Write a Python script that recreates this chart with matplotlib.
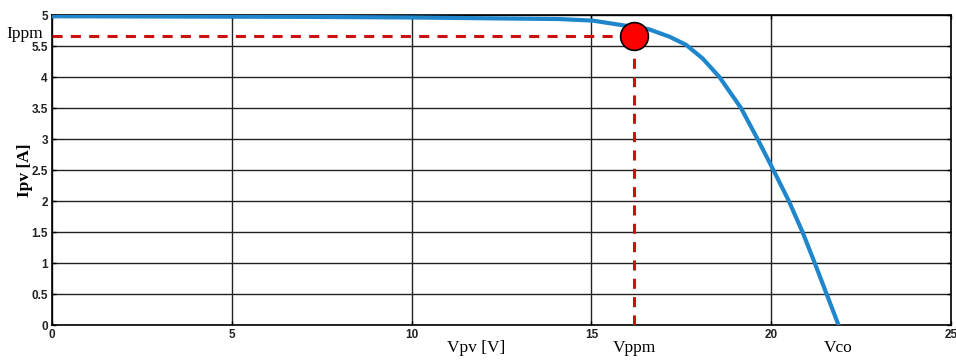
"""I-V characteristic of a PV module with the maximum power point marked."""
import matplotlib

matplotlib.use("Agg")

import matplotlib.pyplot as plt  # noqa: E402

# I-V curve
V_PV = [0, 7, 10, 14.11, 15.03, 16.6, 17.17, 17.63, 18.09, 18.56, 19.16,
        19.62, 20.06, 20.49, 20.87, 21.21, 21.54, 21.87]
I_PV = [4.98, 4.97, 4.96, 4.935, 4.91, 4.77, 4.65, 4.52, 4.30, 4.0, 3.5,
        3.0, 2.5, 2.0, 1.5, 1.0, 0.5, 0.0]

V_PPM = 16.19
I_PPM = 4.66
V_CO = 21.87

X_TICKS = [0, 5, 10, 15, 20, 25]
Y_TICKS = [0, 0.5, 1, 1.5, 2, 2.5, 3, 3.5, 4, 4.5, 5]
Y_TICK_LABELS = ["0", "0.5", "1", "1.5", "2", "2.5", "3", "3.5", "4", "5.5", "5"]

SERIF = ["Liberation Serif", "DejaVu Serif"]
SANS = ["Liberation Sans", "DejaVu Sans"]

fig = plt.figure(figsize=(9.56, 3.61), dpi=100)
ax = fig.add_axes([0.0544, 0.0997, 0.9404, 0.8587])

ax.plot(V_PV, I_PV, color="#1f86cc", linewidth=3.0, solid_joinstyle="round", zorder=3)

red = "#cc1010"
ax.plot([0, V_PPM], [I_PPM, I_PPM], color=red, linewidth=2.2, dashes=(3.3, 2.7), zorder=4)
ax.plot([V_PPM, V_PPM], [0, I_PPM], color=red, linewidth=2.2, dashes=(3.3, 2.7), zorder=4)
ax.plot([V_PPM], [I_PPM], "o", markersize=20, markerfacecolor="#ff0000",
        markeredgecolor="black", markeredgewidth=1.2, zorder=5)

ax.set_xlim(0, 25)
ax.set_ylim(0, 5)
ax.set_xticks(X_TICKS)
ax.set_yticks(Y_TICKS)
ax.set_yticklabels(Y_TICK_LABELS)
ax.grid(True, color="#222222", linewidth=1.0)
ax.set_axisbelow(True)
ax.tick_params(direction="in", length=3, width=1, pad=3, labelsize=8.5,
               right=True, top=True)
for lab in ax.get_xticklabels() + ax.get_yticklabels():
    lab.set_family(SANS)
    lab.set_fontweight("bold")
    lab.set_color("#222222")
for side in ax.spines.values():
    side.set_color("black")
    side.set_linewidth(1.2)

ax.text(V_PPM, -0.37, "Vppm", ha="center", va="center", fontsize=12.5, family=SERIF)
ax.text(V_CO, -0.37, "Vco", ha="center", va="center", fontsize=12.5, family=SERIF)
ax.text(11.8, -0.37, "Vpv [V]", ha="center", va="center", fontsize=12.5, family=SERIF)
ax.text(-0.25, I_PPM + 0.03, "Ippm", ha="right", va="center", fontsize=12.5, family=SERIF)
ax.set_ylabel("Ipv [A]", fontsize=12.5, family=SERIF, fontweight="bold", labelpad=-1)

fig.savefig("out.png", dpi=100)
